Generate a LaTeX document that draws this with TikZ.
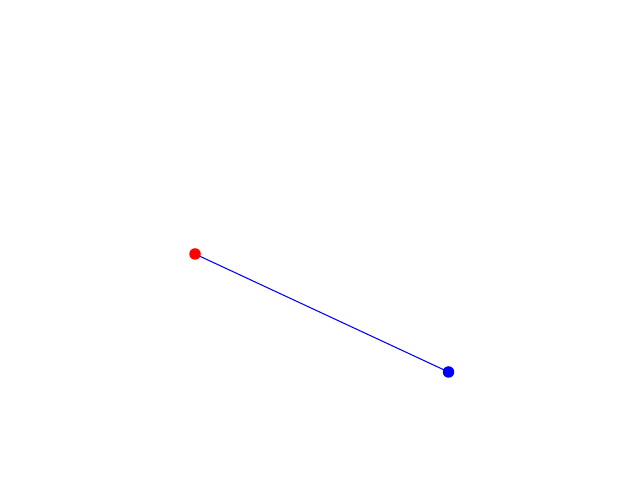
\documentclass[tikz,border=0pt]{standalone}
\begin{document}
\begin{tikzpicture}[x=0.01cm,y=-0.01cm,
  dotstyle/.style={circle,inner sep=0pt,minimum size=0.115cm},
  linkstyle/.style={blue,line width=0.3pt}]
\useasboundingbox[fill=white] (0,0) rectangle (640,480);
\coordinate (rc) at (195,254);
\coordinate (bc) at (448.5,372);
\draw[linkstyle] (rc) -- (bc);
\node[dotstyle,fill=red] (r) at (rc) {};
\node[dotstyle,fill=blue] (b) at (bc) {};
\end{tikzpicture}
\end{document}
